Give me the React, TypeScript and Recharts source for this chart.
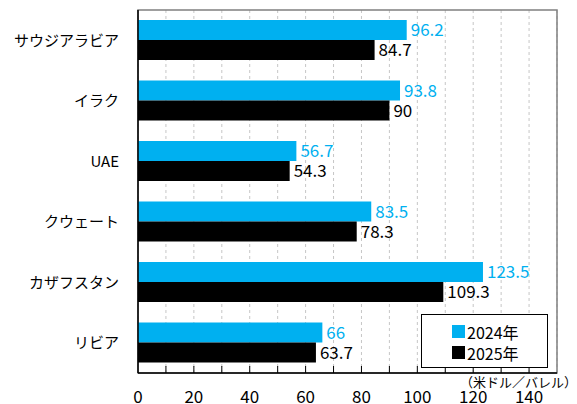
import React from "react";
import {
  BarChart,
  Bar,
  XAxis,
  YAxis,
  CartesianGrid,
  LabelList,
  ReferenceArea,
} from "recharts";

const countries = ["サウジアラビア", "イラク", "UAE", "クウェート", "カザフスタン", "リビア"];
const price2024 = [96.2, 93.8, 56.7, 83.5, 123.5, 66];
const price2025 = [84.7, 90, 54.3, 78.3, 109.3, 63.7];
const xTicks = [0, 10, 20, 30, 40, 50, 60, 70, 80, 90, 100, 110, 120, 130, 140, 150];
const seriesNames = ["2024年", "2025年"];

const data = countries.map((name, i) => ({
  name,
  y2024: price2024[i],
  y2025: price2025[i],
}));

const FONT = '"Noto Sans CJK JP", "Noto Sans", sans-serif';
const BLUE = "#00b0f0";
const colors = [BLUE, "#000"];

const XTick = (props: any) => {
  const { x, y, payload } = props;
  const v = payload.value;
  return (
    <g>
      {v > 0 && v < 150 && <line x1={x} x2={x} y1={y - 7} y2={y} stroke="#000" />}
      {v % 20 === 0 && v <= 140 && (
        <text x={x} y={y + 30} textAnchor="middle" fontSize={17} fill="#000" fontFamily={FONT}>
          {v}
        </text>
      )}
    </g>
  );
};

// legend box sits inside the plot, bottom right
const LegendBox = () => (
  <div
    style={{
      position: "absolute",
      left: 421,
      top: 314,
      border: "1px solid #000",
      width: 127,
      height: 54,
      background: "#fff",
      boxSizing: "border-box",
      paddingTop: 6,
      fontFamily: FONT,
      fontSize: 16,
    }}
  >
    {seriesNames.map((n, i) => (
      <div key={n} style={{ display: "flex", alignItems: "center", marginLeft: 30, height: 21 }}>
        <span style={{ width: 13, height: 13, background: colors[i], display: "inline-block", marginRight: 2 }} />
        <span>{n}</span>
      </div>
    ))}
  </div>
);

export default function App() {
  return (
    <div style={{ position: "absolute", left: 0, top: 0, width: 577, height: 404, background: "#fff" }}>
      <BarChart
        width={577}
        height={404}
        data={data}
        layout="vertical"
        margin={{ top: 10, right: 20, bottom: 0, left: 0 }}
        barGap={0}
      >
        <CartesianGrid horizontal={false} strokeDasharray="3 3" stroke="#c6c6c6" />
        <ReferenceArea x1={0} x2={150} fill="none" stroke="#808080" strokeWidth={1.5} />
        <XAxis
          type="number"
          domain={[0, 150]}
          ticks={xTicks}
          interval={0}
          height={31}
          tickLine={false}
          tickSize={0}
          tickMargin={0}
          tick={<XTick />}
          axisLine={{ stroke: "#000", strokeWidth: 1.5 }}
        />
        <YAxis
          type="category"
          dataKey="name"
          width={138}
          tickLine={false}
          tickSize={0}
          tickMargin={19}
          axisLine={{ stroke: "#000", strokeWidth: 1.5 }}
          tick={{ fill: "#000", fontSize: 15, fontFamily: FONT }}
        />
        <Bar dataKey="y2024" name={seriesNames[0]} fill={BLUE} barSize={20} isAnimationActive={false}>
          <LabelList dataKey="y2024" position="right" offset={4} fill={BLUE} fontSize={17} fontFamily={FONT} />
        </Bar>
        <Bar dataKey="y2025" name={seriesNames[1]} fill="#000" barSize={20} isAnimationActive={false}>
          <LabelList dataKey="y2025" position="right" offset={4} fill="#000" fontSize={17} fontFamily={FONT} />
        </Bar>
      </BarChart>
      <LegendBox />
      <div
        style={{
          position: "absolute",
          left: 460,
          top: 372,
          fontFamily: FONT,
          fontSize: 13,
          color: "#000",
          whiteSpace: "nowrap",
        }}
      >
        （米ドル／バレル）
      </div>
    </div>
  );
}
